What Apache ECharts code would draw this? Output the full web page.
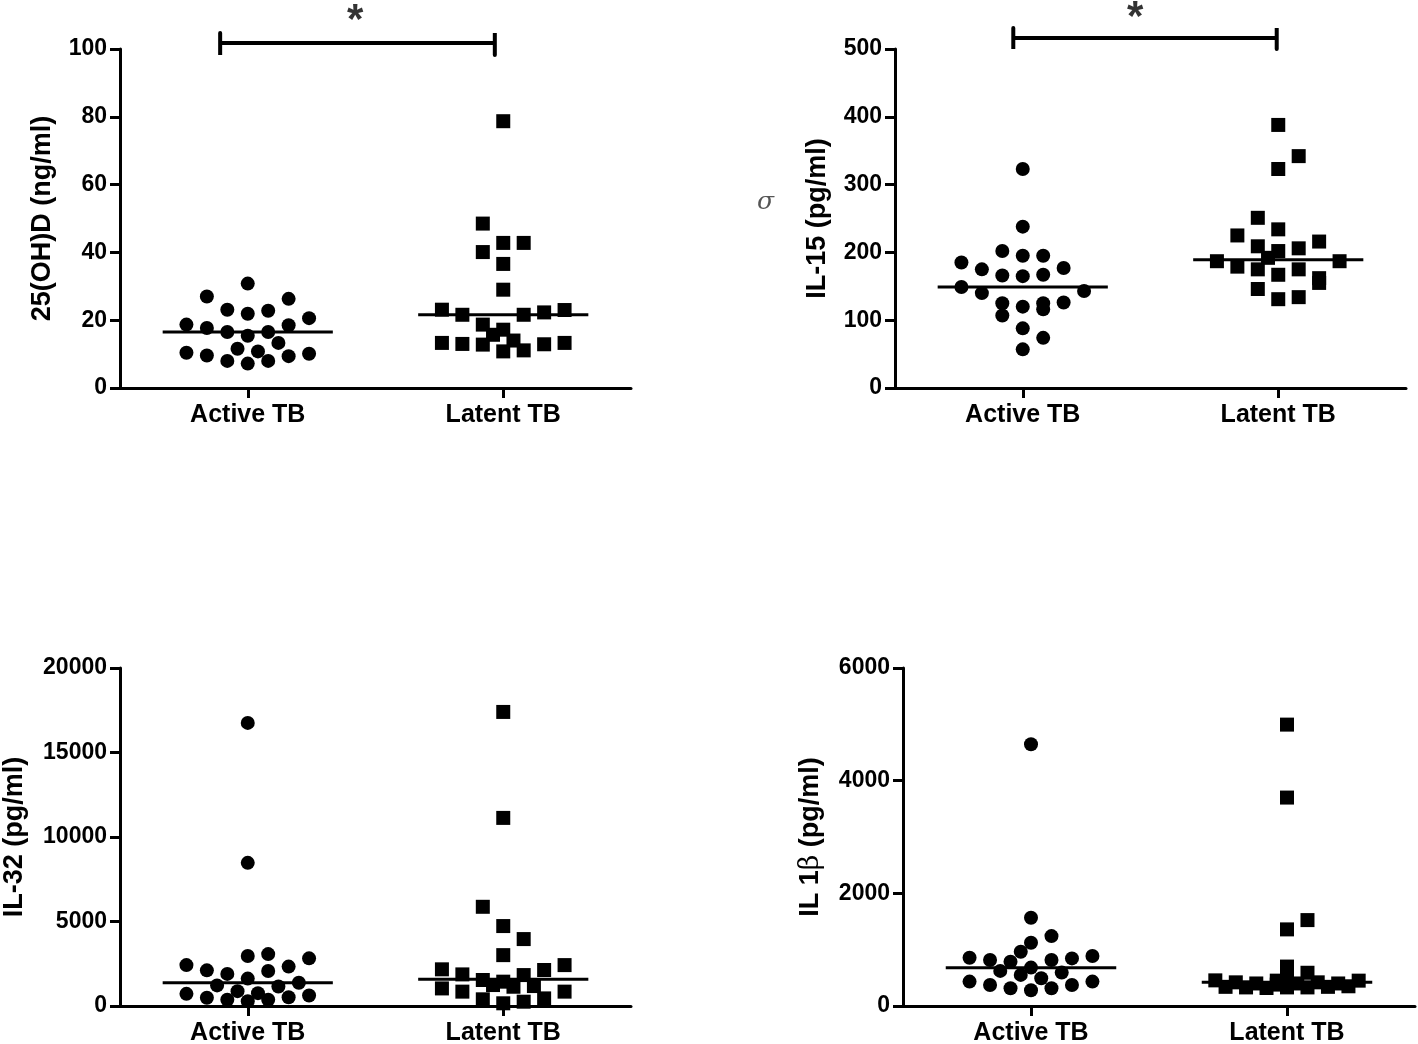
<!DOCTYPE html>
<html>
<head>
<meta charset="utf-8">
<script src="https://cdn.jsdelivr.net/npm/echarts@6/dist/echarts.min.js"></script>
<style>
html,body{margin:0;padding:0;background:#fff;}
#c{width:1418px;height:1044px;}
</style>
</head>
<body>
<div id="c"></div>
<script>
// ---- categories ----
var categories = ['Active TB', 'Latent TB'];

// ---- Panel 1: 25(OH)D (ng/ml) ----
var vitdActiveX = [1.00,0.84,1.16,0.92,1.00,1.08,1.24,0.76,0.84,1.16,0.92,1.08,1.00,1.12,0.96,1.04,0.76,1.24,0.84,1.16,0.92,1.08,1.00];
var vitdActiveY = [30.8,27.0,26.3,23.1,21.9,22.8,20.6,18.7,17.7,18.5,16.5,16.5,15.4,13.3,11.6,10.8,10.4,10.1,9.6,9.4,8.0,8.0,7.2];
var vitdLatentX = [2.00,1.92,2.00,2.08,1.92,2.00,2.00,1.76,1.84,2.08,2.16,2.24,1.92,2.00,1.96,2.04,1.76,1.84,1.92,2.00,2.08,2.16,2.24];
var vitdLatentY = [78.7,48.5,42.8,42.8,40.1,36.6,29.0,23.1,21.6,21.6,22.3,23.0,18.7,17.2,15.7,14.0,13.3,13.0,12.8,10.8,11.1,12.9,13.3];
var vitdMedians = [16.5, 21.6];

// ---- Panel 2: IL-15 (pg/ml) ----
var il15ActiveX = [1.00,1.00,0.92,1.00,1.08,0.76,1.16,0.84,0.92,1.00,1.08,0.76,1.24,0.84,0.92,1.16,1.00,1.08,1.08,0.92,1.00,1.08,1.00];
var il15ActiveY = [323,238,202,195,195,185,177,175,166,165,167,149,143,140,125,126,120,125,116,107,88,74,57];
var il15LatentX = [2.00,2.08,2.00,1.92,2.00,1.84,2.16,1.92,2.08,2.00,1.96,1.76,2.24,1.84,1.92,2.08,2.00,2.16,2.16,1.92,2.00,2.08];
var il15LatentY = [388,342,323,251,234,225,216,209,206,202,192,187,187,179,175,175,167,162,155,146,131,134];
var il15Medians = [149, 189];

// ---- Panel 3: IL-32 (pg/ml) ----
var il32ActiveX = [1.00,1.00,1.00,1.08,1.24,0.76,0.84,1.16,0.92,1.08,1.00,0.88,1.20,1.12,0.96,1.04,0.76,0.84,0.92,1.00,1.08,1.16,1.24];
var il32ActiveY = [16750,8470,2955,3070,2820,2420,2110,2330,1900,2070,1620,1220,1380,1150,880,760,720,485,370,285,370,520,620];
var il32LatentX = [2.00,2.00,1.92,2.00,2.08,2.00,2.24,1.76,2.16,1.84,1.92,2.08,2.00,2.04,1.96,1.76,1.84,2.24,2.12,1.92,2.16,2.08,2.00];
var il32LatentY = [17400,11130,5870,4730,3960,3010,2420,2170,2130,1870,1540,1830,1440,1140,1240,1040,850,850,1180,395,450,255,160];
var il32Medians = [1380, 1580];

// ---- Panel 4: IL 1β (pg/ml) ----
var il1bActiveX = [1.00,1.00,1.08,1.00,0.96,0.76,0.84,0.92,1.08,1.16,1.24,0.88,1.00,1.12,0.96,1.04,0.76,1.24,0.84,1.16,0.92,1.08,1.00];
var il1bActiveY = [4646,1566,1241,1123,963,857,816,786,816,845,887,623,682,593,552,493,433,433,374,374,315,315,280];
var il1bLatentX = [2.00,2.00,2.08,2.00,1.72,1.76,1.80,1.84,1.88,1.92,1.96,2.00,2.00,2.00,1.96,2.04,2.08,2.08,2.12,2.16,2.20,2.24,2.28];
var il1bLatentY = [4995,3700,1525,1360,455,340,420,330,400,320,450,700,520,330,380,400,590,330,420,340,400,350,450];
var il1bMedians = [680, 420];

// ---- y-axis ticks [min, max, interval] ----
var yTicks1 = [0, 100, 20];
var yTicks2 = [0, 500, 100];
var yTicks3 = [0, 20000, 5000];
var yTicks4 = [0, 6000, 2000];

// ---- significance brackets [x1, x2, yLow, yMid, yHigh] ----
var sig1 = [0.892, 1.967, 98.2, 101.8, 104.7];
var sig2 = [0.963, 1.994, 500, 516.2, 531];
var sigStar1 = [1.42, 101.8];
var sigStar2 = [1.44, 514];

var FONT = '"Liberation Sans", Arial, Helvetica, sans-serif';
var HALF = 0.333;

function zip(xs, ys) { return xs.map(function (x, i) { return [x, ys[i]]; }); }

var grids = [
  {left: 120, right: 787, top: 49, bottom: 656, containLabel: false, outerBoundsMode: 'none'},
  {left: 895, right: 12, top: 49, bottom: 656, containLabel: false, outerBoundsMode: 'none'},
  {left: 120, right: 787, top: 668, bottom: 38, containLabel: false, outerBoundsMode: 'none'},
  {left: 903, right: 3, top: 668, bottom: 38, containLabel: false, outerBoundsMode: 'none'}
];

function xAxisFor(i) {
  return {
    type: 'value', gridIndex: i, min: 0.5, max: 2.5,
    splitLine: {show: false},
    axisLine: {show: true, onZero: true, lineStyle: {color: '#000', width: 3}},
    axisTick: {show: true, customValues: [1, 2], length: 10, lineStyle: {color: '#000', width: 3}},
    axisLabel: {show: true, customValues: [1, 2], margin: 15, color: '#000', fontFamily: FONT, fontWeight: 'bold', fontSize: 25,
      formatter: function (v) { return categories[Math.round(v) - 1]; }}
  };
}

function yAxisFor(i, ticks, name, gap) {
  return {
    type: 'value', gridIndex: i, min: ticks[0], max: ticks[1], interval: ticks[2],
    splitLine: {show: false},
    axisLine: {show: true, lineStyle: {color: '#000', width: 3}},
    axisTick: {show: true, length: 10, lineStyle: {color: '#000', width: 3}},
    axisLabel: {margin: 13, color: '#000', fontFamily: FONT, fontWeight: 'bold', fontSize: 23,
      formatter: function (v) { return String(v); }},
    name: name, nameLocation: 'middle', nameGap: gap,
    nameTextStyle: {color: '#000', fontFamily: FONT, fontWeight: 'bold', fontSize: 27,
      rich: {b: {fontFamily: '"DejaVu Serif", "Liberation Serif", serif', fontWeight: 'normal', fontSize: 27, color: '#000'}}}
  };
}

function panelSeries(i, ax, ay, lx, ly, med) {
  return [
    {type: 'scatter', xAxisIndex: i, yAxisIndex: i, symbol: 'circle', symbolSize: 14,
      itemStyle: {color: '#000', opacity: 1}, data: zip(ax, ay), z: 3},
    {type: 'scatter', xAxisIndex: i, yAxisIndex: i, symbol: 'rect', symbolSize: 14,
      itemStyle: {color: '#000', opacity: 1}, data: zip(lx, ly), z: 3},
    {type: 'line', xAxisIndex: i, yAxisIndex: i, symbol: 'none', lineStyle: {color: '#000', width: 3},
      data: [[1 - HALF, med[0]], [1 + HALF, med[0]]], z: 4},
    {type: 'line', xAxisIndex: i, yAxisIndex: i, symbol: 'none', lineStyle: {color: '#000', width: 3},
      data: [[2 - HALF, med[1]], [2 + HALF, med[1]]], z: 4}
  ];
}

function sigSeries(i, s, star) {
  return [
    {type: 'line', xAxisIndex: i, yAxisIndex: i, symbol: 'none', clip: false,
      lineStyle: {color: '#000', width: 4, cap: 'round', join: 'miter'},
      data: [[s[0], s[4]], [s[0], s[2]], [s[0], s[3]], [s[1], s[3]], [s[1], s[4]], [s[1], s[2]]]},
    {type: 'scatter', xAxisIndex: i, yAxisIndex: i, symbolSize: 1, clip: false,
      itemStyle: {color: 'rgba(0,0,0,0)'},
      label: {show: true, position: 'top', distance: 0, formatter: '*', color: '#000',
        fontFamily: FONT, fontWeight: 'bold', fontSize: 42},
      data: [star]}
  ];
}

var series = []
  .concat(panelSeries(0, vitdActiveX, vitdActiveY, vitdLatentX, vitdLatentY, vitdMedians))
  .concat(panelSeries(1, il15ActiveX, il15ActiveY, il15LatentX, il15LatentY, il15Medians))
  .concat(panelSeries(2, il32ActiveX, il32ActiveY, il32LatentX, il32LatentY, il32Medians))
  .concat(panelSeries(3, il1bActiveX, il1bActiveY, il1bLatentX, il1bLatentY, il1bMedians))
  .concat(sigSeries(0, sig1, sigStar1))
  .concat(sigSeries(1, sig2, sigStar2));

var chart = echarts.init(document.getElementById('c'), null, {renderer: 'canvas'});
chart.setOption({
  backgroundColor: '#fff',
  animation: false,
  grid: grids,
  xAxis: [xAxisFor(0), xAxisFor(1), xAxisFor(2), xAxisFor(3)],
  yAxis: [
    yAxisFor(0, yTicks1, '25(OH)D (ng/ml)', 64),
    yAxisFor(1, yTicks2, 'IL-15 (pg/ml)', 64),
    yAxisFor(2, yTicks3, 'IL-32 (pg/ml)', 92),
    yAxisFor(3, yTicks4, 'IL 1{b|β} (pg/ml)', 79)
  ],
  graphic: [
    {type: 'text', left: 757, top: 190,
      style: {text: 'σ', font: 'italic 25px "DejaVu Serif", "Liberation Serif", serif', fill: '#555'}}
  ],
  series: series
});
</script>
</body>
</html>
